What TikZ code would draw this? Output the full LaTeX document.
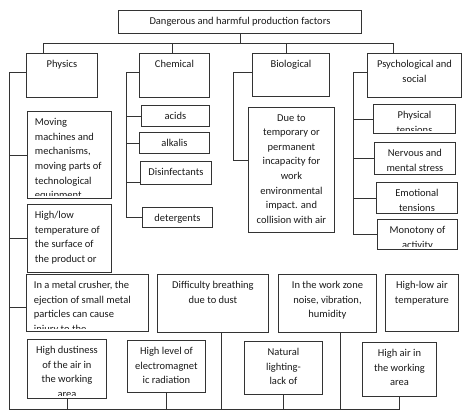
\documentclass[tikz,border=0pt]{standalone}
\usepackage{fontspec}
\setmainfont{Carlito}
\tikzset{
  fbox/.style n args={4}{draw=black!80,line width=0.9pt,anchor=north west,inner sep=0pt,
    minimum width=#1,minimum height=#2,
    path picture={\clip ([yshift=2.5pt]path picture bounding box.south west) rectangle (path picture bounding box.north east);
      \node[ftext,a #3] at (path picture bounding box.#3) {#4};}},
  ftext/.style={font=\fontsize{10.5}{14.6}\selectfont,inner sep=0pt,
    minimum width=0pt,minimum height=0pt,text=black!90},
  a north/.style={anchor=north,align=center,yshift=-6.5pt},
  a north west/.style={anchor=north west,align=left,xshift=7pt,yshift=-6.5pt},
  lnk/.style={draw=black!80,line width=0.9pt},
}
\begin{document}
\begin{tikzpicture}[x=1pt,y=-1pt]
  \useasboundingbox (0,0) rectangle (468,416);
  % --- head and the four groups ---
  \node[fbox={243pt}{23pt}{north}{Dangerous and harmful production factors}] (top) at (118,10) {};
  \node[fbox={71pt}{44pt}{north}{Physics}] (phys) at (26,53) {};
  \node[fbox={70pt}{44pt}{north}{Chemical}] (chem) at (139,53) {};
  \node[fbox={77pt}{43pt}{north}{Biological}] (bio) at (252,53) {};
  \node[fbox={94pt}{44pt}{north}{Psychological and\\social}] (psy) at (367,53) {};
  % physics factors
  \node[fbox={84pt}{87pt}{north west}{Moving\\machines and\\mechanisms,\\moving parts of\\technological\\equipment}] (mov) at (27,111) {};
  \node[fbox={84pt}{68pt}{north west}{High/low\\temperature of\\the surface of\\the product or}] (temp) at (27,204) {};
  \node[fbox={122pt}{57pt}{north west}{In a metal crusher, the\\ejection of small metal\\particles can cause\\injury to the}] (crush) at (26,274) {};
  \node[fbox={111pt}{58pt}{north}{Difficulty breathing\\due to dust}] (diff) at (157,274) {};
  \node[fbox={98pt}{58pt}{north}{In the work zone\\noise, vibration,\\humidity}] (zone) at (278,274) {};
  \node[fbox={73pt}{57pt}{north}{High-low air\\temperature}] (hlat) at (385,274) {};
  \node[fbox={79pt}{59pt}{north}{High dustiness\\of the air in\\the working\\area}] (dust) at (27,339) {};
  \node[fbox={78pt}{52pt}{north}{High level of\\electromagnet\\ic radiation}] (emr) at (127,340) {};
  \node[fbox={78pt}{53pt}{north}{Natural\\lighting-\\lack of}] (nat) at (244,341) {};
  \node[fbox={74pt}{54pt}{north}{High air in\\the working\\area}] (hair) at (362,342) {};
  % chemical factors
  \node[fbox={68pt}{21pt}{north}{acids}] (acid) at (141,105) {};
  \node[fbox={70pt}{21pt}{north}{alkalis}] (alk) at (139,132) {};
  \node[fbox={71pt}{23pt}{north}{Disinfectants}] (dis) at (140,161) {};
  \node[fbox={70pt}{20pt}{north}{detergents}] (det) at (142,207) {};
  % biological
  \node[fbox={86pt}{125pt}{north}{Due to\\temporary or\\permanent\\incapacity for\\work\\environmental\\impact. and\\collision with air}] (due) at (248,107) {};
  % psychological and social
  \node[fbox={82pt}{29pt}{north}{Physical\\tensions}] (pt) at (373,104) {};
  \node[fbox={81pt}{32pt}{north}{Nervous and\\mental stress}] (nms) at (374,142) {};
  \node[fbox={81pt}{31pt}{north}{Emotional\\tensions}] (emo) at (376,182) {};
  \node[fbox={80pt}{30pt}{north}{Monotony of\\activity}] (mon) at (377,219) {};

  % bus under the head
  \draw[lnk] (top.south) -- ++(0,10);
  \draw[lnk] ([xshift=17pt]phys.north west) -- ++(0,-10) -| ([xshift=26pt]psy.north west);
  \draw[lnk] ([xshift=33pt]chem.north west) -- ++(0,-10);
  \draw[lnk] ([xshift=34pt]bio.north west) -- ++(0,-10);
  % physics spine and bottom line
  \coordinate (pl) at (9,409);
  \draw[lnk] ([yshift=3pt]phys.west) -| (pl) -| (hair.south);
  \foreach \n in {mov,temp} \draw[lnk] (\n.west) -- (\n.west -| pl);
  \draw[lnk] ([yshift=-4pt]crush.west) -- ([yshift=-4pt]crush.west -| pl);
  \foreach \n in {dust,emr,nat} \draw[lnk] (\n.south) -- (\n.south |- pl);
  \draw[lnk] ([xshift=8pt]diff.south) -- ([xshift=8pt]diff.south |- pl);
  \draw[lnk] ([xshift=13pt]zone.south) -- ([xshift=13pt]zone.south |- pl);
  % chemical spine
  \draw[lnk] ([yshift=3pt]chem.west) -- ++(-13,0) coordinate (cs) |- (det.west);
  \foreach \n in {acid,alk} \draw[lnk] (\n.west) -- (\n.west -| cs);
  \draw[lnk] ([yshift=-9pt]dis.west) -- ([yshift=-9pt]dis.west -| cs);
  % biological
  \draw[lnk] ([yshift=3pt]bio.west) -- ++(-19,0) |- ([yshift=10pt]due.west);
  % psychological spine
  \draw[lnk] ([yshift=3pt]psy.west) -- ++(-14,0) coordinate (ps) |- (mon.west);
  \foreach \n in {pt,nms,emo} \draw[lnk] (\n.west) -- (\n.west -| ps);
\end{tikzpicture}
\end{document}
